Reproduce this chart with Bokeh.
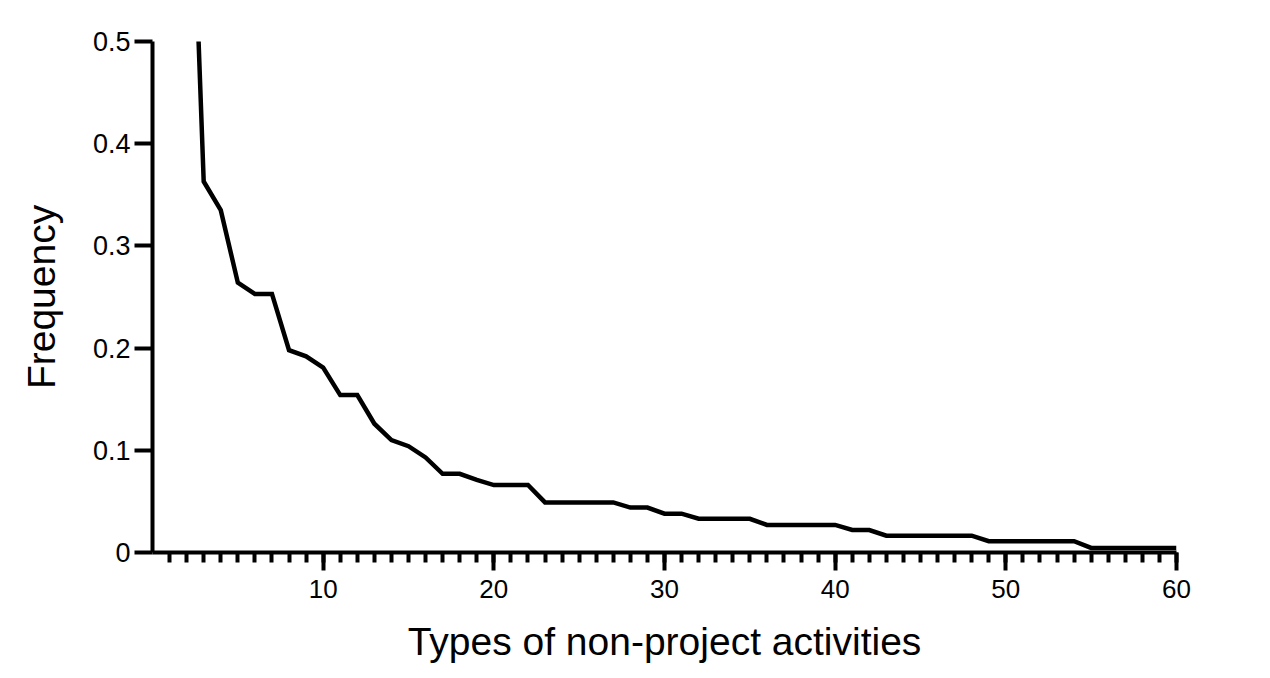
from bokeh.plotting import figure
from bokeh.models import Range1d, FixedTicker
from bokeh.embed import file_html
from bokeh.resources import INLINE

# Data
activity_types = list(range(2, 61))
frequency = [
    0.820, 0.363, 0.335, 0.264, 0.253, 0.253, 0.198, 0.192, 0.181, 0.154,  # 2-11
    0.154, 0.126, 0.110, 0.104, 0.093, 0.077, 0.077, 0.071, 0.066, 0.066,  # 12-21
    0.066, 0.049, 0.049, 0.049, 0.049, 0.049, 0.044, 0.044, 0.038, 0.038,  # 22-31
    0.033, 0.033, 0.033, 0.033, 0.027, 0.027, 0.027, 0.027, 0.027, 0.022,  # 32-41
    0.022, 0.0165, 0.0165, 0.0165, 0.0165, 0.0165, 0.0165, 0.011, 0.011, 0.011,  # 42-51
    0.011, 0.011, 0.011, 0.0045, 0.0045, 0.0045, 0.0045, 0.0045, 0.0045,  # 52-60
]
x_major_ticks = [10, 20, 30, 40, 50, 60]
x_minor_ticks = list(range(1, 61))
y_ticks = [0, 0.1, 0.2, 0.3, 0.4, 0.5]

FONT = "Liberation Sans"

p = figure(width=1270, height=678, output_backend="svg", toolbar_location=None,
           x_range=Range1d(0, 60), y_range=Range1d(0, 0.5),
           min_border_left=152, min_border_right=94, min_border_top=41, min_border_bottom=126)
p.outline_line_color = None
p.grid.visible = False
p.background_fill_color = "white"
p.border_fill_color = "white"

p.line(activity_types, frequency, line_color="black", line_width=4.5, line_join="miter")

xa = p.xaxis[0]
xa.ticker = FixedTicker(ticks=x_major_ticks, minor_ticks=x_minor_ticks)
xa.axis_line_width = 4
xa.axis_line_color = "black"
xa.major_tick_line_width = 4
xa.major_tick_out = 18
xa.major_tick_in = 0
xa.minor_tick_line_width = 4
xa.minor_tick_out = 10
xa.minor_tick_in = 0
xa.major_label_text_font = FONT
xa.major_label_text_font_size = "26px"
xa.major_label_text_color = "black"
xa.major_label_standoff = 9
xa.axis_label = "Types of non-project activities"
xa.axis_label_text_font = FONT
xa.axis_label_text_font_size = "39px"
xa.axis_label_text_font_style = "normal"
xa.axis_label_text_color = "black"
xa.axis_label_standoff = 19

ya = p.yaxis[0]
ya.ticker = FixedTicker(ticks=y_ticks, minor_ticks=[])
ya.axis_line_width = 4
ya.axis_line_color = "black"
ya.major_tick_line_width = 4
ya.major_tick_out = 18
ya.major_tick_in = 0
ya.minor_tick_out = 0
ya.minor_tick_in = 0
ya.major_label_text_font = FONT
ya.major_label_text_font_size = "27px"
ya.major_label_text_color = "black"
ya.major_label_standoff = 4
ya.major_label_overrides = {0: "0"}
ya.axis_label = "Frequency"
ya.axis_label_text_font = FONT
ya.axis_label_text_font_size = "39px"
ya.axis_label_text_font_style = "normal"
ya.axis_label_text_color = "black"
ya.axis_label_standoff = 27

open("out.html", "w").write(file_html(p, INLINE))
